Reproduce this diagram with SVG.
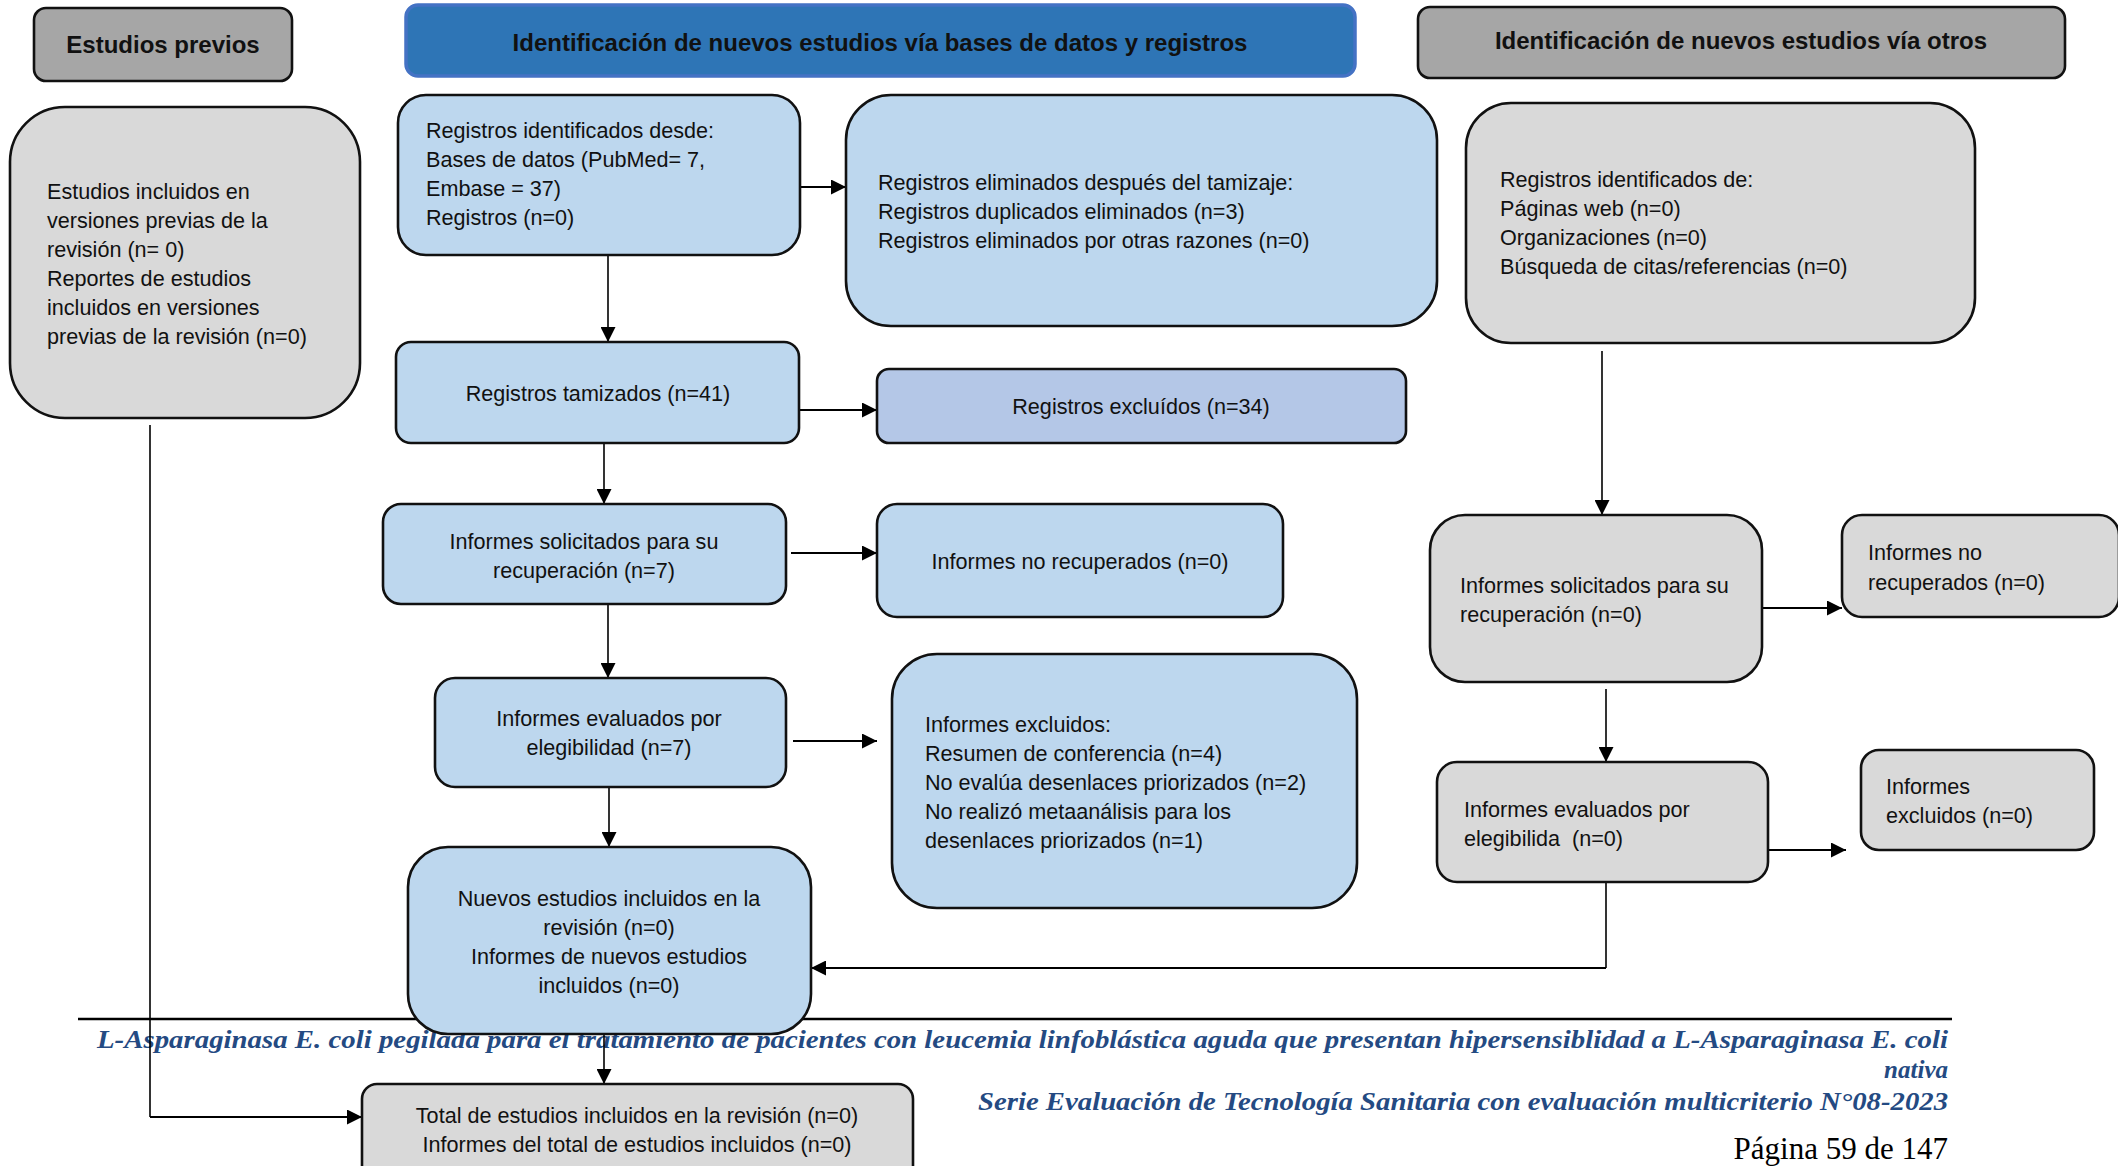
<svg xmlns="http://www.w3.org/2000/svg" width="2118" height="1166" viewBox="0 0 2118 1166">
<style>
.bx{stroke:#111;stroke-width:2.6}
.bl{fill:#bdd7ee}
.bd{fill:#b4c7e7}
.gr{fill:#d9d9d9}
.hg{fill:#a6a6a6}
.t{font-family:"Liberation Sans",Arial,sans-serif;font-size:21.6px;fill:#111}
.m{text-anchor:middle}
.h{font-weight:bold;font-size:24px}
.ft{font-family:"Liberation Serif","Times New Roman",serif;font-style:italic;font-weight:bold;font-size:25px;fill:#244a82;text-anchor:end}
.pg{font-family:"Liberation Serif","Times New Roman",serif;font-size:31px;fill:#000;text-anchor:end}
.cn{fill:none;stroke:#000}
.v{stroke-width:1.6}
.hz{stroke-width:2.2}
</style>
<defs>
<marker id="ah" viewBox="0 0 10 10" refX="10" refY="5" markerUnits="userSpaceOnUse" markerWidth="15" markerHeight="15" orient="auto">
<path d="M0,0 L10,5 L0,10 z" fill="#000"/>
</marker>
</defs>

<g id="footer">
<line x1="78" y1="1019" x2="1952" y2="1019" stroke="#000" stroke-width="2.5"/>
<text class="ft" x="1948" y="1048" textLength="1851" lengthAdjust="spacingAndGlyphs">L-Asparaginasa E. coli pegilada para el tratamiento de pacientes con leucemia linfoblástica aguda que presentan hipersensiblidad a L-Asparaginasa E. coli</text>
<text class="ft" x="1948" y="1078">nativa</text>
<text class="ft" x="1948" y="1110" textLength="970" lengthAdjust="spacingAndGlyphs">Serie Evaluación de Tecnología Sanitaria con evaluación multicriterio N°08-2023</text>
<text class="pg" x="1948" y="1159">Página 59 de 147</text>
</g>

<g id="connectors">
<path class="cn hz" d="M800,187 H846" marker-end="url(#ah)"/>
<path class="cn v" d="M608,255 V342" marker-end="url(#ah)"/>
<path class="cn hz" d="M792,410 H877" marker-end="url(#ah)"/>
<path class="cn v" d="M604,443 V504" marker-end="url(#ah)"/>
<path class="cn hz" d="M791,553 H877" marker-end="url(#ah)"/>
<path class="cn v" d="M608,604 V678" marker-end="url(#ah)"/>
<path class="cn hz" d="M793,741 H877" marker-end="url(#ah)"/>
<path class="cn v" d="M609,787 V847" marker-end="url(#ah)"/>
<path class="cn v" d="M1606,878 V968"/>
<path class="cn hz" d="M1606,968 H811" marker-end="url(#ah)"/>
<path class="cn v" d="M604,1034 V1084" marker-end="url(#ah)"/>
<path class="cn v" d="M150,425 V1117"/>
<path class="cn hz" d="M150,1117 H362" marker-end="url(#ah)"/>
<path class="cn v" d="M1602,351 V515" marker-end="url(#ah)"/>
<path class="cn hz" d="M1758,608 H1842" marker-end="url(#ah)"/>
<path class="cn v" d="M1606,689 V762" marker-end="url(#ah)"/>
<path class="cn hz" d="M1763,850 H1846" marker-end="url(#ah)"/>
</g>

<g id="hdr-previos">
<rect class="bx hg" x="34" y="8" width="258" height="73" rx="12"/>
<text class="t h m" x="163" y="53">Estudios previos</text>
</g>
<g id="hdr-bases">
<rect x="406" y="5" width="949" height="71" rx="12" fill="#2e75b6" stroke="#4472c4" stroke-width="3.5"/>
<text class="t h m" x="880" y="51">Identificación de nuevos estudios vía bases de datos y registros</text>
</g>
<g id="hdr-otros">
<rect class="bx hg" x="1418" y="7" width="647" height="71" rx="12"/>
<text class="t h m" x="1741" y="49">Identificación de nuevos estudios vía otros</text>
</g>

<g id="n-previos">
<rect class="bx gr" x="10" y="107" width="350" height="311" rx="55"/>
<text class="t" x="47" y="199">Estudios incluidos en</text>
<text class="t" x="47" y="228">versiones previas de la</text>
<text class="t" x="47" y="257">revisión (n= 0)</text>
<text class="t" x="47" y="286">Reportes de estudios</text>
<text class="t" x="47" y="315">incluidos en versiones</text>
<text class="t" x="47" y="344">previas de la revisión (n=0)</text>
</g>

<g id="n-identificados">
<rect class="bx bl" x="398" y="95" width="402" height="160" rx="28"/>
<text class="t" x="426" y="138">Registros identificados desde:</text>
<text class="t" x="426" y="167">Bases de datos (PubMed= 7,</text>
<text class="t" x="426" y="196">Embase = 37)</text>
<text class="t" x="426" y="225">Registros (n=0)</text>
</g>

<g id="n-eliminados">
<rect class="bx bl" x="846" y="95" width="591" height="231" rx="45"/>
<text class="t" x="878" y="190">Registros eliminados después del tamizaje:</text>
<text class="t" x="878" y="219">Registros duplicados eliminados (n=3)</text>
<text class="t" x="878" y="248">Registros eliminados por otras razones (n=0)</text>
</g>

<g id="n-otros-identificados">
<rect class="bx gr" x="1466" y="103" width="509" height="240" rx="45"/>
<text class="t" x="1500" y="187">Registros identificados de:</text>
<text class="t" x="1500" y="216">Páginas web (n=0)</text>
<text class="t" x="1500" y="245">Organizaciones (n=0)</text>
<text class="t" x="1500" y="274">Búsqueda de citas/referencias (n=0)</text>
</g>

<g id="n-tamizados">
<rect class="bx bl" x="396" y="342" width="403" height="101" rx="15"/>
<text class="t m" x="598" y="401">Registros tamizados (n=41)</text>
</g>

<g id="n-excluidos">
<rect class="bx bd" x="877" y="369" width="529" height="74" rx="12"/>
<text class="t m" x="1141" y="414">Registros excluídos (n=34)</text>
</g>

<g id="n-solicitados">
<rect class="bx bl" x="383" y="504" width="403" height="100" rx="18"/>
<text class="t m" x="584" y="549">Informes solicitados para su</text>
<text class="t m" x="584" y="578">recuperación (n=7)</text>
</g>

<g id="n-no-recuperados">
<rect class="bx bl" x="877" y="504" width="406" height="113" rx="20"/>
<text class="t m" x="1080" y="569">Informes no recuperados (n=0)</text>
</g>

<g id="n-evaluados">
<rect class="bx bl" x="435" y="678" width="351" height="109" rx="20"/>
<text class="t m" x="609" y="726">Informes evaluados por</text>
<text class="t m" x="609" y="755">elegibilidad (n=7)</text>
</g>

<g id="n-informes-excluidos">
<rect class="bx bl" x="892" y="654" width="465" height="254" rx="45"/>
<text class="t" x="925" y="732">Informes excluidos:</text>
<text class="t" x="925" y="761">Resumen de conferencia (n=4)</text>
<text class="t" x="925" y="790">No evalúa desenlaces priorizados (n=2)</text>
<text class="t" x="925" y="819">No realizó metaanálisis para los</text>
<text class="t" x="925" y="848">desenlaces priorizados (n=1)</text>
</g>

<g id="n-nuevos">
<rect class="bx bl" x="408" y="847" width="403" height="187" rx="40"/>
<text class="t m" x="609" y="906">Nuevos estudios incluidos en la</text>
<text class="t m" x="609" y="935">revisión (n=0)</text>
<text class="t m" x="609" y="964">Informes de nuevos estudios</text>
<text class="t m" x="609" y="993">incluidos (n=0)</text>
</g>

<g id="n-total">
<rect class="bx gr" x="362" y="1084" width="551" height="110" rx="15"/>
<text class="t m" x="637" y="1123">Total de estudios incluidos en la revisión (n=0)</text>
<text class="t m" x="637" y="1152">Informes del total de estudios incluidos (n=0)</text>
</g>

<g id="n-otros-solicitados">
<rect class="bx gr" x="1430" y="515" width="332" height="167" rx="35"/>
<text class="t" x="1460" y="593">Informes solicitados para su</text>
<text class="t" x="1460" y="622">recuperación (n=0)</text>
</g>

<g id="n-otros-no-recuperados">
<rect class="bx gr" x="1842" y="515" width="277" height="102" rx="20"/>
<text class="t" x="1868" y="560">Informes no</text>
<text class="t" x="1868" y="590">recuperados (n=0)</text>
</g>

<g id="n-otros-evaluados">
<rect class="bx gr" x="1437" y="762" width="331" height="120" rx="20"/>
<text class="t" x="1464" y="817">Informes evaluados por</text>
<text class="t" x="1464" y="846" xml:space="preserve">elegibilida  (n=0)</text>
</g>

<g id="n-otros-excluidos">
<rect class="bx gr" x="1861" y="750" width="233" height="100" rx="18"/>
<text class="t" x="1886" y="794">Informes</text>
<text class="t" x="1886" y="823">excluidos (n=0)</text>
</g>
</svg>
